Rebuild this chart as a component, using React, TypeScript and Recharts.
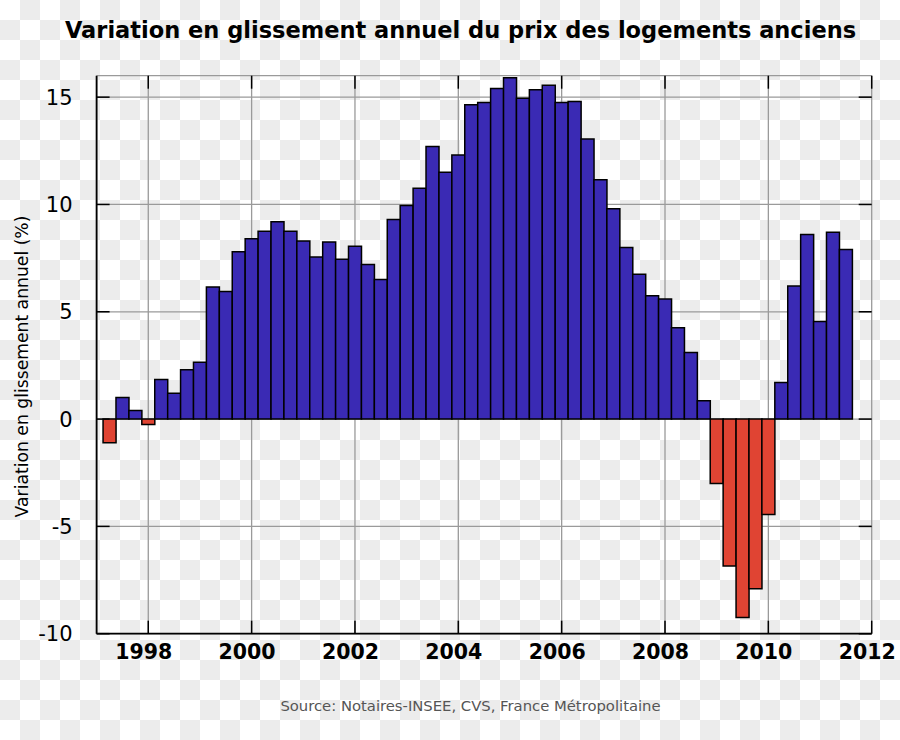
import React from 'react';
import { ComposedChart, Bar, XAxis, YAxis, CartesianGrid, Cell } from 'recharts';

// quarter mid-points (decimal years) and annual price variation (%)
const quarters = [
  1997.25, 1997.5, 1997.75, 1998.0, 1998.25, 1998.5, 1998.75, 1999.0,
  1999.25, 1999.5, 1999.75, 2000.0, 2000.25, 2000.5, 2000.75, 2001.0,
  2001.25, 2001.5, 2001.75, 2002.0, 2002.25, 2002.5, 2002.75, 2003.0,
  2003.25, 2003.5, 2003.75, 2004.0, 2004.25, 2004.5, 2004.75, 2005.0,
  2005.25, 2005.5, 2005.75, 2006.0, 2006.25, 2006.5, 2006.75, 2007.0,
  2007.25, 2007.5, 2007.75, 2008.0, 2008.25, 2008.5, 2008.75, 2009.0,
  2009.25, 2009.5, 2009.75, 2010.0, 2010.25, 2010.5, 2010.75, 2011.0,
  2011.25, 2011.5,
];
const variation = [
  -1.1, 1.0, 0.4, -0.25, 1.85, 1.2, 2.3, 2.65,
  6.15, 5.95, 7.8, 8.4, 8.75, 9.2, 8.75, 8.3,
  7.55, 8.25, 7.45, 8.05, 7.2, 6.5, 9.3, 9.95,
  10.75, 12.7, 11.5, 12.3, 14.65, 14.75, 15.4, 15.9,
  14.95, 15.35, 15.55, 14.75, 14.8, 13.05, 11.15, 9.8,
  8.0, 6.75, 5.75, 5.6, 4.25, 3.1, 0.85, -3.0,
  -6.85, -9.25, -7.9, -4.45, 1.7, 6.2, 8.6, 4.55,
  8.7, 7.9,
];
const yearTicks = [1998, 2000, 2002, 2004, 2006, 2008, 2010, 2012];
const valueTicks = [-10, -5, 0, 5, 10, 15];

const data = quarters.map((t, i) => ({ t, v: variation[i] }));

const FONT = '"DejaVu Sans", sans-serif';
const BLUE = '#3a2ab4';
const RED = '#e04433';

// plot frame (from chart margins / axis sizes)
const M = { top: 75.7, right: 28.3, bottom: 76.3, left: 0 };
const Y_AXIS_W = 96.6;
const X_AXIS_H = 30;
const PLOT_LEFT = M.left + Y_AXIS_W;
const PLOT_RIGHT = 900 - M.right;
const PLOT_TOP = M.top;
const PLOT_BOTTOM = 740 - M.bottom - X_AXIS_H;
const TICK = 13;

// y tick: label on the left plus inward tick marks on both sides
const YTick = (props: any) => {
  const { x, y, payload } = props;
  return (
    <g>
      <line x1={PLOT_LEFT} x2={PLOT_LEFT + TICK} y1={y} y2={y} stroke="#000" strokeWidth={1.5} />
      <line x1={PLOT_RIGHT - TICK} x2={PLOT_RIGHT} y1={y} y2={y} stroke="#000" strokeWidth={1.5} />
      <text x={x} y={y} dy="0.36em" textAnchor="end" fontSize={21} fontFamily={FONT} fill="#000">
        {payload.value}
      </text>
    </g>
  );
};

// x tick: label below plus inward tick marks top and bottom
const XTick = (props: any) => {
  const { x, y, payload } = props;
  return (
    <g>
      <line x1={x} x2={x} y1={PLOT_BOTTOM - TICK} y2={PLOT_BOTTOM} stroke="#000" strokeWidth={1.5} />
      <line x1={x} x2={x} y1={PLOT_TOP} y2={PLOT_TOP + TICK} stroke="#000" strokeWidth={1.5} />
      <text x={x - 4.5} y={y} dy={14.6} textAnchor="middle" fontSize={20.5} fontWeight="bold" fontFamily={FONT} fill="#000">
        {payload.value}
      </text>
    </g>
  );
};

const YLabel = () => (
  <text transform="translate(27.5,366.5) rotate(-90)" textAnchor="middle" fontSize={17.2} fontFamily={FONT} fill="#000">
    Variation en glissement annuel (%)
  </text>
);

const frame = { stroke: '#000', strokeWidth: 1.8 };

export default function App() {
  return (
    <div
      style={{
        position: 'absolute',
        left: 0,
        top: 0,
        width: 900,
        height: 740,
        backgroundColor: '#fff',
        backgroundImage: 'repeating-conic-gradient(#ececec 0% 25%, #ffffff 0% 50%)',
        backgroundSize: '40px 40px',
      }}
    >
      <ComposedChart
        width={900}
        height={740}
        data={data}
        margin={M}
        barCategoryGap={0}
        barGap={0}
      >
        <CartesianGrid stroke="#9a9a9a" strokeWidth={1.3} />
        <XAxis
          dataKey="t"
          type="number"
          domain={[1997, 2012]}
          ticks={yearTicks}
          interval={0}
          height={X_AXIS_H}
          tickSize={0}
          tickMargin={11}
          tick={<XTick />}
          tickLine={false}
          axisLine={frame}
          allowDataOverflow
        />
        <XAxis
          xAxisId="top"
          orientation="top"
          type="number"
          domain={[1997, 2012]}
          height={0}
          tick={false}
          tickLine={false}
          axisLine={frame}
          allowDataOverflow
        />
        <YAxis
          type="number"
          domain={[-10, 16]}
          ticks={valueTicks}
          interval={0}
          width={Y_AXIS_W}
          tickSize={0}
          tickMargin={24}
          tick={<YTick />}
          tickLine={false}
          axisLine={frame}
          label={<YLabel />}
          allowDataOverflow
        />
        <YAxis
          yAxisId="right"
          orientation="right"
          type="number"
          domain={[-10, 16]}
          width={0}
          tick={false}
          tickLine={false}
          axisLine={frame}
          allowDataOverflow
        />
        <Bar dataKey="v" stroke="#000" strokeWidth={1.5} isAnimationActive={false}>
          {data.map((d, i) => (
            <Cell key={`cell-${i}`} fill={d.v < 0 ? RED : BLUE} />
          ))}
        </Bar>
      </ComposedChart>

      {/* title and source */}
      <svg width={900} height={740} style={{ position: 'absolute', left: 0, top: 0, pointerEvents: 'none' }}>
        <text x={460.5} y={38} textAnchor="middle" fontSize={22.5} fontWeight="bold" fontFamily={FONT} fill="#000">
          Variation en glissement annuel du prix des logements anciens
        </text>
        <text x={470.5} y={711} textAnchor="middle" fontSize={14.8} fontFamily={FONT} fill="#555">
          Source: Notaires-INSEE, CVS, France Métropolitaine
        </text>
      </svg>
    </div>
  );
}
